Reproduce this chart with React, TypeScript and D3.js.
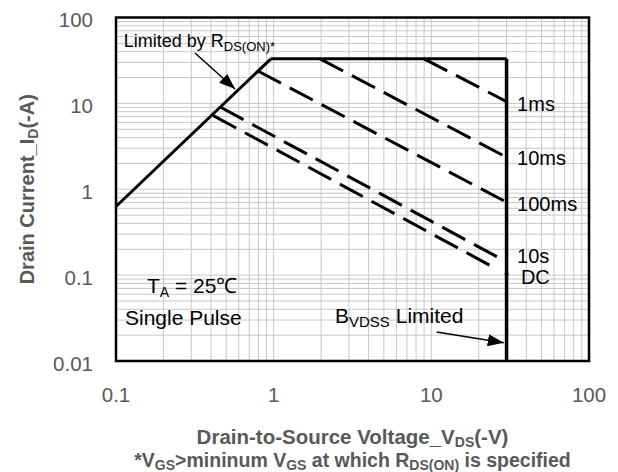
import React from "react";
import * as d3 from "d3";

// axis ticks
const xTicks = [0.1, 1, 10, 100];
const yTicks = [0.01, 0.1, 1, 10, 100];

// boundary of the safe operating area (V, A)
const rdsLimitV = [0.1, 0.96];
const rdsLimitI = [0.63, 33];
const currentLimitV = [0.96, 30];
const currentLimitI = [33, 33];
const bvdssLimitV = [30, 30];
const bvdssLimitI = [33, 0.01];

// pulse-width lines (dashed)
const pulseLabels = ["1ms", "10ms", "100ms", "10s", "DC"];
const pulseStartV = [9.0, 1.97, 0.795, 0.461, 0.414];
const pulseStartI = [33, 33, 23.8, 9.0, 7.2];
const pulseEndV = [30, 30, 30, 27.9, 25.3];
const pulseEndI = [10.5, 2.36, 0.706, 0.153, 0.121];
const pulseLabelV = [35, 35, 35, 35, 37];
const pulseLabelI = [9.8, 2.34, 0.675, 0.168, 0.096];

const W = 618;
const H = 472;
const margin = { top: 17.5, right: 29, bottom: 111, left: 116 };

const FONT = "'Liberation Sans', Arial, sans-serif";
const GREY = "#595959";

const App: React.FC = () => {
  const x = d3.scaleLog().domain([0.1, 100]).range([margin.left, W - margin.right]);
  const y = d3.scaleLog().domain([0.01, 100]).range([H - margin.bottom, margin.top]);

  const line = d3
    .line<[number, number]>()
    .x((d) => x(d[0]))
    .y((d) => y(d[1]));

  const zip = (vs: number[], is: number[]) => vs.map((v, i) => [v, is[i]] as [number, number]);

  // minor grid values, 1..9 per decade
  const xGrid: number[] = [];
  for (let e = -1; e < 2; e++) for (let k = 1; k <= 9; k++) xGrid.push(k * Math.pow(10, e));
  const yGrid: number[] = [];
  for (let e = -2; e < 2; e++) for (let k = 1; k <= 9; k++) yGrid.push(k * Math.pow(10, e));

  const [x0, x1] = x.range();
  const [y0, y1] = y.range();

  return (
    <svg
      width={W}
      height={H}
      style={{ position: "absolute", left: 0, top: 0, background: "#fff" }}
      fontFamily={FONT}
    >
      <defs>
        <marker
          id="arrow"
          viewBox="0 0 16 12"
          refX="16"
          refY="6"
          markerWidth="16"
          markerHeight="12"
          markerUnits="userSpaceOnUse"
          orient="auto"
        >
          <path d="M0,0 L16,6 L0,12 Z" fill="#000" />
        </marker>
      </defs>

      {/* grid */}
      <g stroke="#c8c8c8" strokeWidth={1}>
        {xGrid.map((v) => (
          <line key={"gx" + v} x1={x(v)} x2={x(v)} y1={y1} y2={y0} />
        ))}
        {yGrid.map((v) => (
          <line key={"gy" + v} x1={x0} x2={x1} y1={y(v)} y2={y(v)} />
        ))}
      </g>

      {/* SOA boundary */}
      <g fill="none" stroke="#000" strokeWidth={3} strokeLinejoin="miter">
        <path d={line(zip(rdsLimitV, rdsLimitI)) || ""} />
        <path d={line(zip(currentLimitV, currentLimitI)) || ""} />
        <path d={line(zip(bvdssLimitV, bvdssLimitI)) || ""} strokeWidth={3.5} />
      </g>

      {/* pulse lines */}
      <g fill="none" stroke="#000" strokeWidth={3} strokeDasharray="26 10">
        {pulseLabels.map((p, i) => (
          <path
            key={p}
            d={line([
              [pulseStartV[i], pulseStartI[i]],
              [pulseEndV[i], pulseEndI[i]],
            ]) || ""}
          />
        ))}
      </g>
      <circle cx={x(30)} cy={y(0.103)} r={2} fill="#000" />

      {/* plot border */}
      <rect x={x0} y={y1} width={x1 - x0} height={y0 - y1} fill="none" stroke="#000" strokeWidth={2.5} />

      {/* pulse labels */}
      <g fontSize={20} fill="#000">
        {pulseLabels.map((p, i) => (
          <text key={p} x={x(pulseLabelV[i])} y={y(pulseLabelI[i])} dominantBaseline="central">
            {p}
          </text>
        ))}
      </g>

      {/* annotations */}
      <text x={x(0.112)} y={y(45.9)} fontSize={18} fill="#000">
        Limited by R
        <tspan fontSize={13} dy={4}>DS(ON)*</tspan>
      </text>
      <line
        x1={x(0.317)}
        y1={y(38.6)}
        x2={x(0.569)}
        y2={y(14.7)}
        stroke="#000"
        strokeWidth={1.5}
        markerEnd="url(#arrow)"
      />
      <text x={x(0.157)} y={y(0.062)} fontSize={21} fill="#000">
        T<tspan fontSize={14} dy={4}>A</tspan>
        <tspan dy={-4}> = 25℃</tspan>
      </text>
      <text x={x(0.114)} y={y(0.0263)} fontSize={21} fill="#000">
        Single Pulse
      </text>
      <text x={x(2.45)} y={y(0.0278)} fontSize={21} fill="#000">
        B<tspan fontSize={15} dy={4}>VDSS</tspan>
        <tspan dy={-4}> Limited</tspan>
      </text>
      <line
        x1={x(10.8)}
        y1={y(0.0218)}
        x2={x(28.8)}
        y2={y(0.0163)}
        stroke="#000"
        strokeWidth={1.5}
        markerEnd="url(#arrow)"
      />

      {/* tick labels */}
      <g fontSize={20.5} fill={GREY}>
        {yTicks.map((v) => (
          <text key={"yt" + v} x={x0 - 23} y={y(v) + 2} textAnchor="end" dominantBaseline="central">
            {String(v)}
          </text>
        ))}
        {xTicks.map((v) => (
          <text key={"xt" + v} x={x(v)} y={y0 + 33} textAnchor="middle" dominantBaseline="central">
            {String(v)}
          </text>
        ))}
      </g>

      {/* axis titles */}
      <g fontWeight="bold" fill={GREY}>
        <text x={(x0 + x1) / 2} y={444} textAnchor="middle" fontSize={20.5}>
          Drain-to-Source Voltage_V<tspan fontSize={14} dy={3}>DS</tspan>
          <tspan dy={-3}>(-V)</tspan>
        </text>
        <text x={(x0 + x1) / 2} y={467} textAnchor="middle" fontSize={19.5}>
          *V<tspan fontSize={14} dy={3}>GS</tspan>
          <tspan dy={-3}>&gt;mininum V</tspan>
          <tspan fontSize={14} dy={3}>GS</tspan>
          <tspan dy={-3}> at which R</tspan>
          <tspan fontSize={14} dy={3}>DS(ON)</tspan>
          <tspan dy={-3}> is specified</tspan>
        </text>
        <text
          transform={`translate(34,${(y0 + y1) / 2}) rotate(-90)`}
          textAnchor="middle"
          fontSize={20}
        >
          Drain Current_I<tspan fontSize={14} dy={4}>D</tspan>
          <tspan dy={-4}>(-A)</tspan>
        </text>
      </g>
    </svg>
  );
};

export default App;
